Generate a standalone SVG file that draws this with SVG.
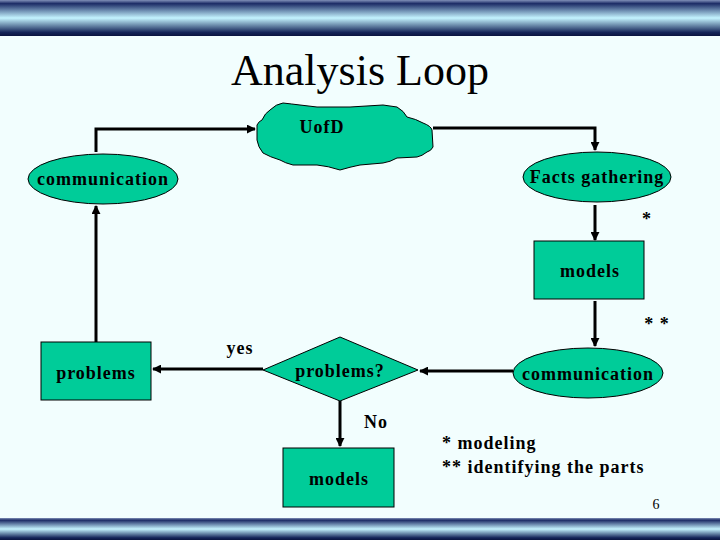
<svg xmlns="http://www.w3.org/2000/svg" width="720" height="540" viewBox="0 0 720 540">
<defs>
<linearGradient id="bar" x1="0" y1="0" x2="0" y2="1">
<stop offset="0" stop-color="#8090b8"/>
<stop offset="0.1" stop-color="#1c2c66"/>
<stop offset="0.5" stop-color="#c4f4ff"/>
<stop offset="0.9" stop-color="#142458"/>
<stop offset="1" stop-color="#0a1440"/>
</linearGradient>
<marker id="ah" viewBox="0 0 10 10" refX="9" refY="5" markerWidth="9" markerHeight="9" markerUnits="userSpaceOnUse" orient="auto">
<path d="M0,0 L10,5 L0,10 z" fill="#000"/>
</marker>
<style>
.shape{fill:#00cc99;stroke:#000;stroke-width:1}
.lbl{font-family:"Liberation Serif",serif;font-weight:bold;font-size:18px;letter-spacing:1px;fill:#000;text-anchor:middle}
.note{font-family:"Liberation Serif",serif;font-weight:bold;font-size:18px;letter-spacing:1px;fill:#000}
.conn{fill:none;stroke:#000;stroke-width:3}
</style>
</defs>
<rect width="720" height="540" fill="#f2fefe"/>
<rect x="0" y="0" width="720" height="36" fill="url(#bar)"/>
<rect x="0" y="518" width="720" height="22" fill="url(#bar)"/>
<text x="360" y="85" font-family="Liberation Serif,serif" font-size="44" text-anchor="middle" fill="#000">Analysis Loop</text>

<g id="connectors">
<polyline class="conn" points="96,152 96,129 255,129" marker-end="url(#ah)"/>
<polyline class="conn" points="433,128 595,128 595,150" marker-end="url(#ah)"/>
<line class="conn" x1="595" y1="205" x2="595" y2="240" marker-end="url(#ah)"/>
<line class="conn" x1="595" y1="301" x2="595" y2="346" marker-end="url(#ah)"/>
<line class="conn" x1="513" y1="371" x2="420" y2="371" marker-end="url(#ah)"/>
<line class="conn" x1="263" y1="369" x2="153" y2="369" marker-end="url(#ah)"/>
<line class="conn" x1="96" y1="342" x2="96" y2="206" marker-end="url(#ah)"/>
<line class="conn" x1="340" y1="401" x2="340" y2="446" marker-end="url(#ah)"/>
</g>

<g id="uofd">
<path class="shape" d="M257,125 Q259,121 262,120 Q265,113 270,110 Q276,104 283,103 Q292,104 300,105 L317,107 L350,107 L383,105 L397,107 Q404,111 407,117 Q416,119 423,123 Q431,126 432,130 L433,147 Q431,151 427,152 Q422,156 417,157 L397,158 Q390,162 383,163 L360,165 Q350,167 340,170 Q328,166 317,165 L293,165 Q285,163 280,160 Q270,157 263,153 Q258,147 257,140 Z"/>
<text class="lbl" x="322" y="133">UofD</text>
</g>
<g id="communication1">
<ellipse class="shape" cx="103" cy="179" rx="75" ry="25"/>
<text class="lbl" x="103" y="185">communication</text>
</g>
<g id="facts">
<ellipse class="shape" cx="597" cy="177" rx="74" ry="25"/>
<text class="lbl" x="597" y="183">Facts gathering</text>
</g>
<g id="models1">
<rect class="shape" x="534" y="241" width="110" height="58"/>
<text class="lbl" x="590" y="277">models</text>
</g>
<g id="communication2">
<ellipse class="shape" cx="588" cy="373" rx="75" ry="25"/>
<text class="lbl" x="588" y="380">communication</text>
</g>
<g id="decision">
<polygon class="shape" points="263,370 340,337 418,370 340,401"/>
<text class="lbl" x="340" y="377">problems?</text>
</g>
<g id="problems">
<rect class="shape" x="41" y="342" width="110" height="58"/>
<text class="lbl" x="96" y="379">problems</text>
</g>
<g id="models2">
<rect class="shape" x="283" y="448" width="111" height="59"/>
<text class="lbl" x="339" y="485">models</text>
</g>
<g id="labels">
<text class="lbl" x="647" y="225">*</text>
<text class="lbl" x="657" y="330">* *</text>
<text class="lbl" x="240" y="354">yes</text>
<text class="lbl" x="376" y="428">No</text>
<text class="note" x="442" y="449">* modeling</text>
<text class="note" x="442" y="473">** identifying the parts</text>
<text x="656" y="509" font-family="Liberation Serif,serif" font-size="14" text-anchor="middle" fill="#000">6</text>
</g>
</svg>
